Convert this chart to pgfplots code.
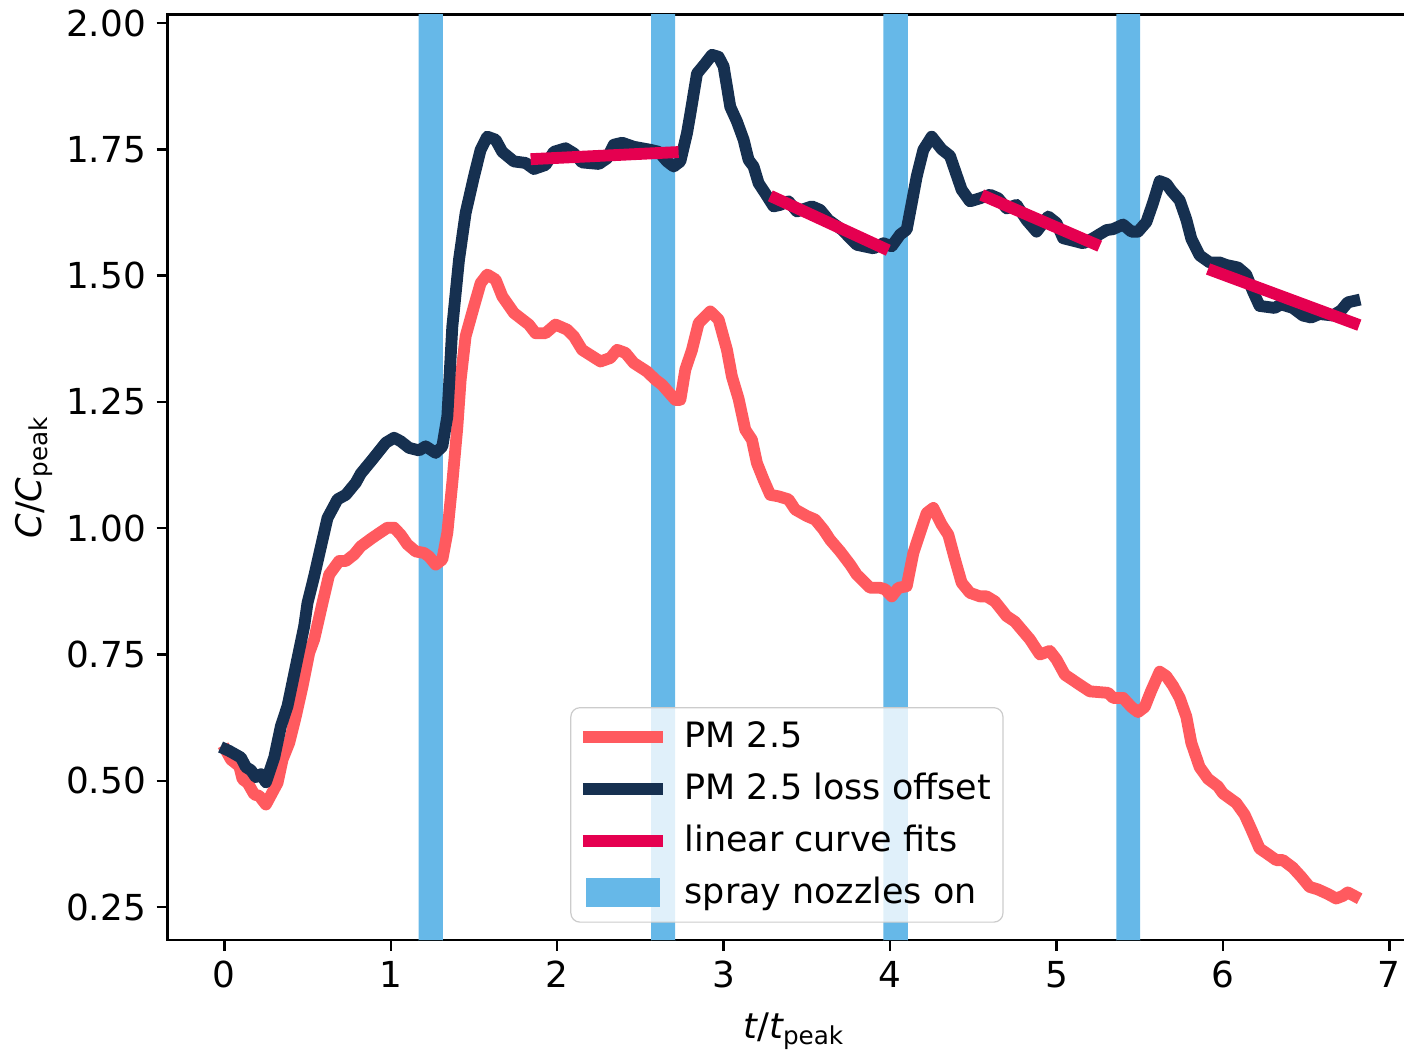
\documentclass[border=0pt]{standalone}
\usepackage{fontspec}
\setmainfont{DejaVu Sans}
\usepackage{pgfplots}
\pgfplotsset{compat=1.18}
\usepackage{pgfplotstable}
\definecolor{pmred}{RGB}{255,90,95}
\definecolor{navy}{RGB}{22,48,80}
\definecolor{fitred}{RGB}{229,0,80}
\definecolor{spray}{RGB}{102,184,232}

% PM 2.5 (normalised)
\pgfplotstableread{
x y
0.01 0.560
0.04 0.542
0.09 0.529
0.11 0.503
0.14 0.496
0.18 0.473
0.21 0.470
0.25 0.453
0.32 0.496
0.35 0.542
0.39 0.575
0.43 0.628
0.47 0.687
0.51 0.753
0.54 0.780
0.59 0.852
0.63 0.908
0.69 0.935
0.73 0.935
0.78 0.948
0.82 0.964
0.89 0.981
0.98 1.001
1.02 1.001
1.06 0.987
1.10 0.968
1.15 0.954
1.20 0.951
1.23 0.944
1.27 0.928
1.31 0.938
1.34 0.991
1.37 1.090
1.40 1.200
1.42 1.294
1.45 1.380
1.50 1.439
1.54 1.485
1.58 1.502
1.63 1.492
1.67 1.459
1.74 1.426
1.83 1.403
1.87 1.386
1.93 1.386
1.99 1.403
2.06 1.393
2.10 1.380
2.15 1.353
2.26 1.330
2.32 1.337
2.36 1.353
2.41 1.347
2.46 1.327
2.54 1.310
2.59 1.294
2.63 1.284
2.71 1.254
2.74 1.254
2.77 1.314
2.81 1.353
2.85 1.406
2.92 1.429
2.97 1.413
3.02 1.353
3.05 1.300
3.09 1.256
3.13 1.195
3.17 1.175
3.20 1.129
3.24 1.096
3.28 1.066
3.33 1.063
3.39 1.057
3.43 1.037
3.50 1.024
3.55 1.017
3.60 0.997
3.64 0.977
3.70 0.954
3.76 0.928
3.80 0.908
3.88 0.882
3.94 0.882
3.97 0.879
4.01 0.865
4.05 0.882
4.10 0.885
4.14 0.951
4.18 0.991
4.22 1.030
4.26 1.040
4.31 1.007
4.35 0.987
4.39 0.938
4.43 0.892
4.48 0.872
4.54 0.865
4.58 0.865
4.63 0.855
4.70 0.826
4.75 0.815
4.84 0.780
4.90 0.750
4.96 0.757
5.00 0.740
5.05 0.710
5.14 0.690
5.20 0.677
5.31 0.674
5.34 0.664
5.40 0.664
5.45 0.646
5.49 0.636
5.53 0.646
5.57 0.679
5.62 0.716
5.66 0.707
5.70 0.688
5.74 0.664
5.78 0.627
5.81 0.575
5.86 0.527
5.91 0.504
5.97 0.489
6.00 0.475
6.08 0.456
6.13 0.433
6.17 0.404
6.22 0.366
6.26 0.357
6.32 0.343
6.36 0.343
6.42 0.328
6.47 0.310
6.52 0.290
6.57 0.285
6.63 0.276
6.68 0.267
6.72 0.272
6.75 0.279
6.79 0.272
}\pmraw

% PM 2.5 with loss offset added back
\pgfplotstableread{
x y
0.01 0.562
0.03 0.559
0.10 0.546
0.13 0.527
0.16 0.521
0.19 0.507
0.22 0.513
0.25 0.497
0.30 0.546
0.34 0.608
0.38 0.648
0.43 0.727
0.48 0.806
0.50 0.852
0.54 0.905
0.59 0.977
0.62 1.020
0.68 1.057
0.73 1.066
0.79 1.090
0.82 1.108
0.89 1.136
0.97 1.169
1.02 1.179
1.06 1.172
1.11 1.159
1.17 1.154
1.21 1.162
1.27 1.149
1.31 1.162
1.34 1.221
1.37 1.399
1.41 1.531
1.45 1.624
1.50 1.696
1.54 1.749
1.58 1.775
1.63 1.769
1.67 1.745
1.74 1.726
1.81 1.723
1.86 1.711
1.93 1.719
1.98 1.745
2.05 1.752
2.10 1.742
2.15 1.724
2.25 1.721
2.30 1.732
2.34 1.759
2.39 1.763
2.46 1.755
2.56 1.749
2.61 1.745
2.66 1.726
2.70 1.716
2.74 1.726
2.78 1.782
2.80 1.820
2.84 1.900
2.89 1.920
2.93 1.937
2.97 1.933
3.00 1.914
3.04 1.834
3.08 1.805
3.12 1.769
3.15 1.729
3.18 1.716
3.21 1.683
3.25 1.663
3.30 1.637
3.34 1.640
3.39 1.647
3.44 1.627
3.53 1.637
3.58 1.630
3.63 1.610
3.71 1.591
3.80 1.561
3.90 1.554
3.96 1.564
4.01 1.558
4.06 1.581
4.10 1.591
4.13 1.643
4.16 1.696
4.20 1.749
4.25 1.775
4.31 1.750
4.36 1.737
4.43 1.670
4.48 1.647
4.54 1.653
4.60 1.660
4.65 1.653
4.70 1.633
4.76 1.640
4.82 1.610
4.88 1.587
4.95 1.617
5.00 1.604
5.04 1.574
5.16 1.564
5.22 1.574
5.30 1.590
5.34 1.592
5.40 1.601
5.45 1.587
5.49 1.587
5.54 1.606
5.58 1.644
5.62 1.687
5.66 1.682
5.69 1.668
5.74 1.649
5.78 1.611
5.81 1.573
5.86 1.540
5.92 1.526
5.98 1.526
6.02 1.521
6.09 1.516
6.14 1.502
6.18 1.469
6.22 1.440
6.31 1.436
6.35 1.443
6.42 1.436
6.48 1.421
6.53 1.417
6.58 1.424
6.66 1.421
6.71 1.431
6.75 1.447
6.79 1.450
}\pmoffset

\tikzset{curve/.style={line width=3.9pt,line join=round,line cap=rect}}

\begin{document}
\begin{tikzpicture}
\begin{axis}[scale only axis,width=5.715in,height=4.22in,
  xmin=-0.3425,xmax=7.19,ymin=0.1847,ymax=2.0172,
  axis line style={line width=0.8pt},
  tick style={line width=0.8pt,black},major tick length=3.5pt,
  tick align=outside,xtick pos=bottom,ytick pos=left,
  xtick={0,1,...,7},ytick={0.25,0.5,...,2.0},
  /pgf/number format/assume math mode=true,
  yticklabel style={/pgf/number format/.cd,fixed,fixed zerofill,precision=2},
  tick label style={font=\fontsize{11.8}{14}\selectfont},
  label style={font=\fontsize{11.6}{14}\selectfont},
  xlabel style={yshift=-1pt},
  ylabel style={yshift=-2.5pt},
  xlabel={{\itshape t}/{\itshape t}\textsubscript{peak}},
  ylabel={{\itshape C}/{\itshape C}\textsubscript{peak}},
  legend cell align=left,
  legend style={at={(0.3214,0.0187)},anchor=south west,
    draw=black!20,rounded corners=3pt,fill=white,fill opacity=0.8,text opacity=1,
    font=\fontsize{11.5}{13.6}\selectfont,row sep=2.9pt,inner xsep=2pt,inner ysep=2.6pt},
  legend image code/.code={\draw[#1,line cap=butt] (0pt,0pt) -- (26.3pt,0pt);
    \path (29.6pt,0pt);},
]
\addplot[fill=spray,draw=none,forget plot] coordinates {(1.168,0)(1.168,2.5)(1.313,2.5)(1.313,0)} \closedcycle;
\addplot[fill=spray,draw=none,forget plot] coordinates {(2.564,0)(2.564,2.5)(2.709,2.5)(2.709,0)} \closedcycle;
\addplot[fill=spray,draw=none,forget plot] coordinates {(3.960,0)(3.960,2.5)(4.107,2.5)(4.107,0)} \closedcycle;
\addplot[fill=spray,draw=none,forget plot] coordinates {(5.359,0)(5.359,2.5)(5.503,2.5)(5.503,0)} \closedcycle;

\addplot[curve,pmred] table {\pmraw};
\addlegendentry{PM 2.5}
\addplot[curve,navy] table {\pmoffset};
\addlegendentry{PM 2.5 loss offset}

\addplot[curve,fitred] coordinates {(1.876,1.731)(2.694,1.744)};
\addlegendentry{linear curve fits}
\addplot[curve,fitred,forget plot] coordinates {(3.313,1.653)(3.957,1.555)};
\addplot[curve,fitred,forget plot] coordinates {(4.583,1.655)(5.227,1.563)};
\addplot[curve,fitred,forget plot] coordinates {(5.944,1.509)(6.786,1.406)};

\addlegendimage{legend image code/.code={\fill[spray,fill opacity=1,sharp corners] (1.3pt,-4.5pt) rectangle (25.3pt,4.5pt);
  \path (29.6pt,0pt);}}
\addlegendentry{spray nozzles on}
\end{axis}
\pgfresetboundingbox
\path ([xshift=-0.7626in,yshift=-0.506in]current axis.south west)
  rectangle ([xshift=-0.0775in,yshift=0.0652in]current axis.north east);
\end{tikzpicture}
\end{document}
